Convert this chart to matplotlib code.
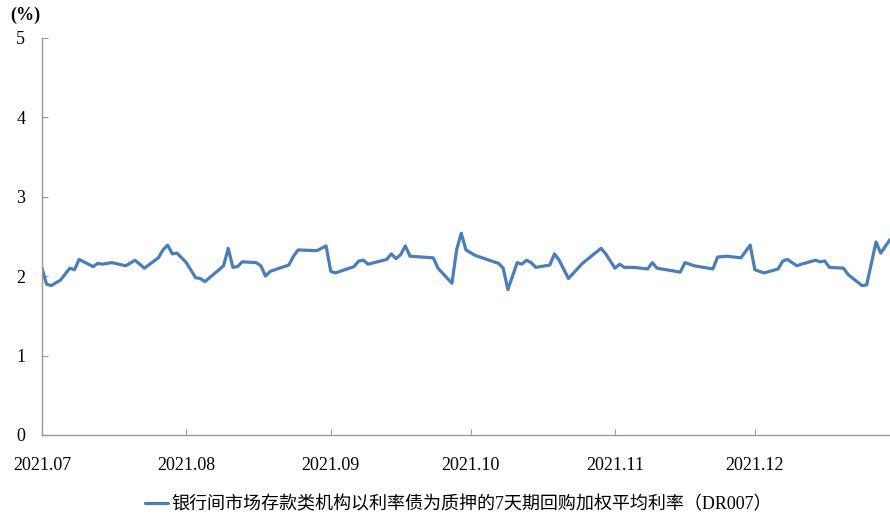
import matplotlib
matplotlib.use('Agg')
import matplotlib.pyplot as plt
import matplotlib.dates as mdates
import pandas as pd

plt.rcParams['font.family'] = ['Liberation Serif', 'Noto Sans CJK SC']

# DR007 daily fixings (%), second half of 2021
dates = [
    '2021-07-01', '2021-07-02', '2021-07-03', '2021-07-05', '2021-07-07', '2021-07-08',
    '2021-07-09', '2021-07-12', '2021-07-13', '2021-07-14', '2021-07-16', '2021-07-19',
    '2021-07-21', '2021-07-23', '2021-07-26', '2021-07-27', '2021-07-28', '2021-07-29',
    '2021-07-30', '2021-08-01', '2021-08-03', '2021-08-04', '2021-08-05', '2021-08-09',
    '2021-08-10', '2021-08-11', '2021-08-12', '2021-08-13', '2021-08-16', '2021-08-17',
    '2021-08-18', '2021-08-19', '2021-08-23', '2021-08-24', '2021-08-25', '2021-08-29',
    '2021-08-31', '2021-09-01', '2021-09-02', '2021-09-06', '2021-09-07', '2021-09-08',
    '2021-09-09', '2021-09-13', '2021-09-14', '2021-09-15', '2021-09-16', '2021-09-17',
    '2021-09-18', '2021-09-23', '2021-09-24', '2021-09-27', '2021-09-28', '2021-09-29',
    '2021-09-30', '2021-10-02', '2021-10-03', '2021-10-07', '2021-10-08', '2021-10-09',
    '2021-10-11', '2021-10-12', '2021-10-13', '2021-10-14', '2021-10-15', '2021-10-18',
    '2021-10-19', '2021-10-20', '2021-10-22', '2021-10-25', '2021-10-29', '2021-10-30',
    '2021-11-01', '2021-11-02', '2021-11-03', '2021-11-05', '2021-11-08', '2021-11-09',
    '2021-11-10', '2021-11-12', '2021-11-15', '2021-11-16', '2021-11-18', '2021-11-22',
    '2021-11-23', '2021-11-25', '2021-11-28', '2021-11-30', '2021-12-01', '2021-12-02',
    '2021-12-03', '2021-12-06', '2021-12-07', '2021-12-08', '2021-12-10', '2021-12-11',
    '2021-12-14', '2021-12-15', '2021-12-16', '2021-12-17', '2021-12-20', '2021-12-21',
    '2021-12-24', '2021-12-25', '2021-12-27', '2021-12-28', '2021-12-30',
]
dr007 = [
    2.11, 1.90, 1.88, 1.95, 2.10, 2.08,
    2.21, 2.12, 2.16, 2.15, 2.17, 2.13,
    2.20, 2.10, 2.23, 2.33, 2.39, 2.28,
    2.29, 2.17, 1.98, 1.97, 1.93, 2.13,
    2.35, 2.11, 2.12, 2.18, 2.17, 2.13,
    2.00, 2.06, 2.14, 2.25, 2.33, 2.32,
    2.38, 2.06, 2.04, 2.12, 2.19, 2.20,
    2.15, 2.21, 2.28, 2.22, 2.27, 2.38,
    2.25, 2.23, 2.10, 1.91, 2.33, 2.54,
    2.33, 2.26, 2.24, 2.16, 2.10, 1.83,
    2.17, 2.15, 2.20, 2.17, 2.11, 2.14,
    2.28, 2.20, 1.97, 2.16, 2.35, 2.28,
    2.10, 2.15, 2.11, 2.11, 2.09, 2.17,
    2.10, 2.08, 2.05, 2.17, 2.13, 2.09,
    2.24, 2.25, 2.23, 2.39, 2.08, 2.06,
    2.04, 2.09, 2.19, 2.21, 2.13, 2.15,
    2.20, 2.18, 2.19, 2.11, 2.10, 2.02,
    1.88, 1.89, 2.43, 2.29, 2.46,
]
month_ticks = ['2021-07-01', '2021-08-01', '2021-09-01', '2021-10-01', '2021-11-01', '2021-12-01']
month_labels = ['2021.07', '2021.08', '2021.09', '2021.10', '2021.11', '2021.12']
y_ticks = [0, 1, 2, 3, 4, 5]
series_name = '银行间市场存款类机构以利率债为质押的7天期回购加权平均利率（DR007）'

x = pd.to_datetime(dates)
fig = plt.figure(figsize=(8.9, 5.19), dpi=100)
ax = fig.add_axes([0.047, 0.162, 0.953, 0.765])

ax.plot(x, dr007, color='#4a7ebb', lw=2.3, solid_joinstyle='round',
        solid_capstyle='round', label=series_name)

ax.set_xlim(pd.Timestamp('2021-07-01'), pd.Timestamp('2021-12-30'))
ax.set_ylim(0, 5)
ax.set_yticks(y_ticks)
ax.set_xticks(pd.to_datetime(month_ticks))
ax.set_xticklabels(month_labels)

for side in ('top', 'right'):
    ax.spines[side].set_visible(False)
for side in ('left', 'bottom'):
    ax.spines[side].set_color('#999999')
    ax.spines[side].set_linewidth(1.0)
ax.tick_params(axis='y', direction='in', length=4, color='#999999', pad=12, labelsize=13)
ax.tick_params(axis='x', direction='in', length=4, color='#999999', pad=16, labelsize=13)

fig.text(10 / 890, 1 - 15 / 519, '(%)', fontsize=13, fontweight='bold', ha='left', va='center')

fig.legend(loc='center', bbox_to_anchor=(0.515, 1 - 505 / 519), frameon=False,
           fontsize=13, handlelength=1.3, handletextpad=0.2)

fig.savefig('out.png', dpi=100)
